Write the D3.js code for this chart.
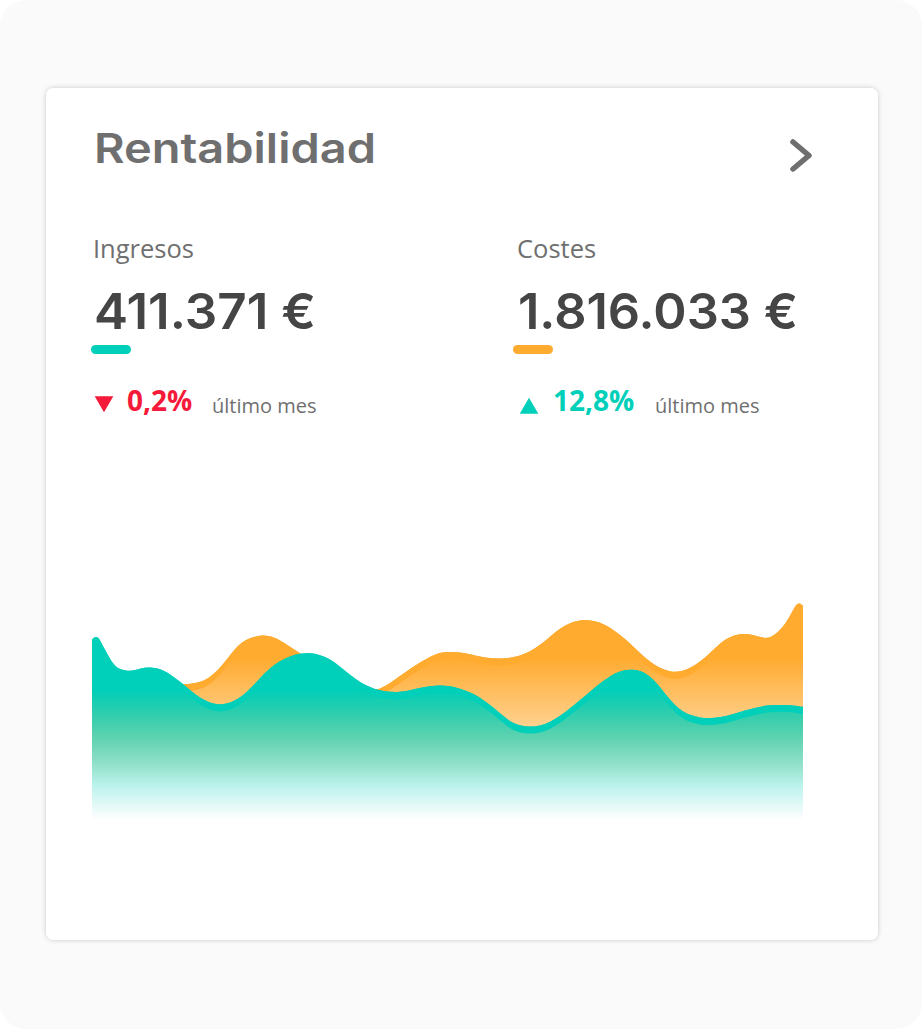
<!DOCTYPE html>
<html lang="es">
<head>
<meta charset="utf-8">
<script src="https://cdnjs.cloudflare.com/ajax/libs/d3/7.8.5/d3.min.js"></script>
<style>
  html, body { margin: 0; padding: 0; background: #fff; }
  svg { display: block; }
</style>
</head>
<body>
<div id="canvas"></div>
<script>
const posiciones = [0,2,6,8,13,18,23,28,38,48,58,68,78,88,98,108,118,128,138,148,158,168,178,188,198,208,218,228,238,248,258,268,278,288,298,308,318,328,338,348,358,368,378,388,398,408,418,428,438,448,458,468,478,488,498,508,518,528,538,548,558,568,578,588,598,608,618,628,638,648,658,668,675,683,693,701,705,708,711];
const ingresos = [180,183,183,180,170,161,154,150.5,148.3,151.7,153,151.3,146,138.3,130,122,117,115,117,122,131,142,152,159,164,166.5,167,165.3,161,153.3,145,137.7,132.7,129.3,128,128,129.7,132,134,134.7,134,131.3,127.7,122.7,115,106.7,98.3,94.3,93,94,97.7,104,111.7,120,128.3,136.7,144,149,150.7,150,144,133.3,120,110,104.7,102.3,101.7,102.7,105,108,110.7,113.3,114.5,115,115,114.5,114,113.6,113.3];
const costes = [135,135,135,135,135,135,135,135,135,135,135,135,135,135.5,136,137.7,142.7,151.7,165,176.7,182.3,184.7,184.3,180,173.3,166.7,160,152,145,140,135,132,130,130.7,136.7,144,151,157.7,163.3,167.7,168.3,167.7,165.7,163.3,161.7,161.3,162,164.3,168.3,175,183.3,191.7,197.3,200,200,197.7,192.7,185,176.7,166.7,158.3,151.7,148.3,148,151.7,158.3,166.7,176.7,183.3,186.3,186,183,181.3,185,195,210,216.5,217,214];

const titulo = "Rentabilidad";
const etiquetas = ["Ingresos", "Costes"];
const totales = ["411.371 €", "1.816.033 €"];
const variaciones = ["0,2%", "12,8%"];
const periodo = "último mes";

const w = 922;
const h = 1029;
const naranja = "#ffab30";
const turquesa = "#00cfb9";
const rojo = "#f5193a";
const gris = "#6f6f6f";
const oscuro = "#454545";

const svg = d3.select("#canvas")
              .append("svg")
              .attr("id", "chart")
              .attr("width", w)
              .attr("height", h);

const defs = svg.append("defs");

const sombra = defs.append("filter")
                   .attr("id", "sombra")
                   .attr("x", "-5%").attr("y", "-5%")
                   .attr("width", "110%").attr("height", "110%");
sombra.append("feDropShadow")
      .attr("dx", 0).attr("dy", 0)
      .attr("stdDeviation", 2.5)
      .attr("flood-color", "#000")
      .attr("flood-opacity", 0.2);

function degradado(id, color, inicio, fin, paradas){
  const g = defs.append("linearGradient")
                .attr("id", id)
                .attr("gradientUnits", "userSpaceOnUse")
                .attr("x1", 0).attr("x2", 0)
                .attr("y1", inicio).attr("y2", fin);
  paradas.forEach(p => {
    g.append("stop").attr("offset", p[0]).attr("stop-color", color).attr("stop-opacity", p[1]);
  });
}
degradado("gradCostes", naranja, 658, 785, [[0, 1], [0.53, 0.55], [1, 0]]);
degradado("gradIngresos", turquesa, 690, 820, [[0, 1], [1, 0]]);

// fondo y tarjeta
svg.append("rect")
   .attr("width", w).attr("height", h)
   .attr("rx", 26)
   .attr("fill", "#fafafa");
svg.append("rect")
   .attr("x", 46).attr("y", 88)
   .attr("width", 832).attr("height", 852)
   .attr("rx", 8)
   .attr("fill", "#fff")
   .attr("filter", "url(#sombra)");

// cabecera
svg.append("text")
   .attr("x", 94).attr("y", 163)
   .attr("font-family", "Inter")
   .attr("font-weight", 600)
   .attr("font-size", 41)
   .attr("textLength", 282)
   .attr("lengthAdjust", "spacingAndGlyphs")
   .attr("fill", gris)
   .text(titulo);

svg.append("polyline")
   .attr("points", "793,142 809,155.5 793,169")
   .attr("fill", "none")
   .attr("stroke", gris)
   .attr("stroke-width", 5.5)
   .attr("stroke-linecap", "round")
   .attr("stroke-linejoin", "round");

// bloques de ingresos y costes
const bloques = [
  {x: 94, color: turquesa, colorVar: rojo, flechaY: 401.5, rot: 180, varX: 127, perX: 212, largo: 222},
  {x: 518, color: naranja, colorVar: turquesa, flechaY: 408.5, rot: 0, varX: 553, perX: 655, largo: 280}
];

bloques.forEach((b, i) => {
  svg.append("text")
     .attr("x", b.x - 1).attr("y", 258)
     .attr("font-family", "Open Sans")
     .attr("font-size", 25.5)
     .attr("fill", gris)
     .text(etiquetas[i]);

  svg.append("text")
     .attr("x", b.x).attr("y", 329)
     .attr("font-family", "Inter")
     .attr("font-weight", 600)
     .attr("font-size", 50)
     .attr("textLength", b.largo)
     .attr("lengthAdjust", "spacingAndGlyphs")
     .attr("fill", oscuro)
     .text(totales[i]);

  svg.append("rect")
     .attr("x", b.x - 3 - 2 * i).attr("y", 345)
     .attr("width", 40).attr("height", 9)
     .attr("rx", 4.5)
     .attr("fill", b.color);

  svg.append("path")
     .attr("d", d3.symbol(d3.symbolTriangle, 150)())
     .attr("transform", "translate(" + (b.x + 10 + i) + "," + b.flechaY + ") rotate(" + b.rot + ")")
     .attr("fill", b.colorVar);

  svg.append("text")
     .attr("x", b.varX).attr("y", 411)
     .attr("font-family", "Open Sans")
     .attr("font-weight", 700)
     .attr("font-size", 28)
     .attr("fill", b.colorVar)
     .text(variaciones[i]);

  svg.append("text")
     .attr("x", b.perX).attr("y", 413)
     .attr("font-family", "Open Sans")
     .attr("font-size", 20)
     .attr("fill", gris)
     .text(periodo);
});

// areas
const x = d3.scaleLinear().domain([0, 711]).range([92, 803]);
const y = d3.scaleLinear().domain([0, 220]).range([820, 600]);
const grosor = 7;

const area = d3.area()
               .x(d => x(d.p))
               .y0(y(0))
               .y1(d => y(d.v))
               .curve(d3.curveBasis);
const banda = d3.area()
                .x(d => x(d.p))
                .y0(d => y(d.v) + grosor)
                .y1(d => y(d.v))
                .curve(d3.curveBasis);

function dibujar(serie, color, grad){
  const datos = posiciones.map((p, i) => ({p: p, v: serie[i]}));
  svg.append("path").datum(datos).attr("d", area).attr("fill", "url(#" + grad + ")");
  svg.append("path").datum(datos).attr("d", banda).attr("fill", color);
}
dibujar(costes, naranja, "gradCostes");
dibujar(ingresos, turquesa, "gradIngresos");
</script>
</body>
</html>
